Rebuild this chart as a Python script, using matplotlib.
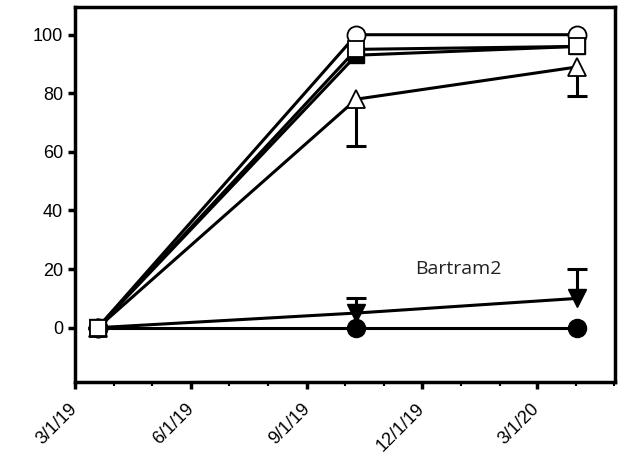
import numpy as np
import matplotlib.pyplot as plt
import matplotlib.dates as mdates
import matplotlib.transforms as mtransforms
from datetime import datetime

plt.rcParams['font.family'] = ['Liberation Sans', 'DejaVu Sans']

# sampling dates
dates = [datetime(2019, 3, 19), datetime(2019, 10, 10), datetime(2020, 4, 2)]

# series values (%)
open_circle = [0, 100, 100]
filled_square = [0, 93, 96]
open_square = [0, 95, 96]
open_tri = [0, 78, 89]
open_tri_err_lo = [0, 16, 10]
filled_tri = [0, 5, 10]
filled_tri_err_hi = [0, 5, 10]
filled_circle = [0, 0, 0]

tick_dates = [datetime(2019, 3, 1), datetime(2019, 6, 1), datetime(2019, 9, 1),
              datetime(2019, 12, 1), datetime(2020, 3, 1)]
tick_labels = ['3/1/19', '6/1/19', '9/1/19', '12/1/19', '3/1/20']

fig = plt.figure(figsize=(6.25, 4.59), dpi=100)
ax = fig.add_axes([0.12, 0.168, 0.864, 0.817])

lw = 2.2
ms = 13
zeros = [0, 0, 0]

# one-sided error bars; hide the cap that sits on the marker
eb = ax.errorbar(dates, filled_tri, yerr=[zeros, filled_tri_err_hi], fmt='none',
                 ecolor='black', capsize=7, capthick=2.2, elinewidth=2.2, zorder=2)
eb[1][0].set_visible(False)
eb = ax.errorbar(dates, open_tri, yerr=[open_tri_err_lo, zeros], fmt='none',
                 ecolor='black', capsize=7, capthick=2.2, elinewidth=2.2, zorder=2)
eb[1][1].set_visible(False)

ax.plot(dates, filled_tri, color='black', marker='v', ms=ms, mfc='black',
        mec='black', lw=lw, zorder=3)
ax.plot(dates, filled_circle, color='black', marker='o', ms=ms, mfc='black',
        mec='black', lw=lw, zorder=4)
ax.plot(dates, open_tri, color='black', marker='^', ms=ms, mfc='white',
        mec='black', mew=1.3, lw=lw, zorder=3)
ax.plot(dates, filled_square, color='black', marker='s', ms=ms - 2, mfc='black',
        mec='black', lw=lw, zorder=3)
ax.plot(dates, open_circle, color='black', marker='o', ms=ms, mfc='white',
        mec='black', mew=1.3, lw=lw, zorder=4)
ax.plot(dates, open_square, color='black', marker='s', ms=ms - 1, mfc='white',
        mec='black', mew=1.3, lw=lw, zorder=5)

ax.text(datetime(2019, 12, 30), 20, 'Bartram2', fontsize=14, ha='center',
        va='center', family=['Open Sans', 'DejaVu Sans'], color='#222222')

ax.set_xlim(datetime(2019, 3, 1), datetime(2020, 5, 2))
ax.set_ylim(-18.5, 109.5)
ax.set_yticks(np.arange(0, 101, 20))
ax.set_xticks(tick_dates)
ax.set_xticklabels(tick_labels, rotation=45, ha='right', rotation_mode='anchor')
ax.xaxis.set_minor_locator(mdates.MonthLocator())

for s in ax.spines.values():
    s.set_linewidth(2.5)
ax.tick_params(axis='both', which='major', direction='out', length=5, width=2.5,
               labelsize=13)
ax.tick_params(axis='x', which='major', pad=8)
ax.tick_params(axis='x', which='minor', direction='out', length=3, width=1.5)

offset = mtransforms.ScaledTranslation(-6 / 100, 0, fig.dpi_scale_trans)
for lab in ax.get_xticklabels():
    lab.set_transform(lab.get_transform() + offset)

fig.savefig('out.png', dpi=100)
